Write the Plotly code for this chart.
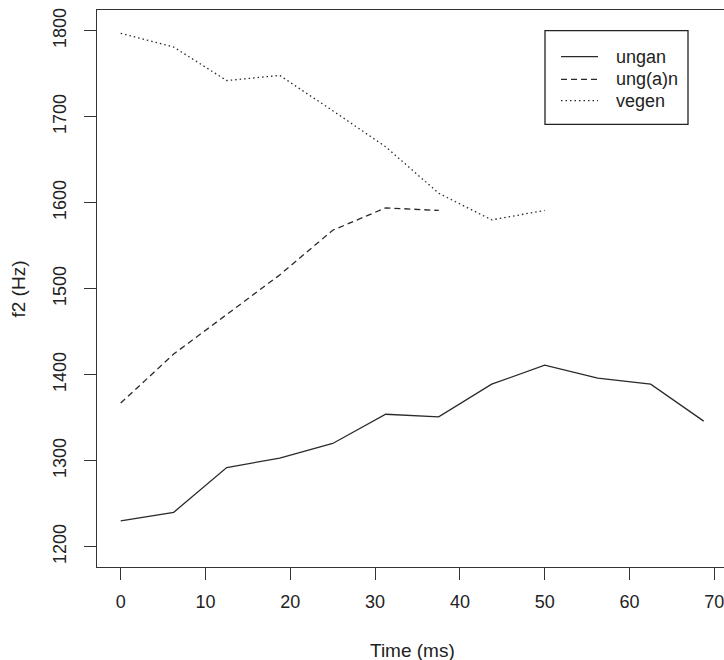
import plotly.graph_objects as go

time_ms = [0, 6.25, 12.5, 18.75, 25, 31.25, 37.5, 43.75, 50, 56.25, 62.5, 68.75]
ungan = [1230, 1240, 1292, 1303, 1320, 1354, 1351, 1389, 1411, 1396, 1389, 1346]
ungan_a = [1367, 1424, 1470, 1516, 1568, 1594, 1591]
vegen = [1797, 1781, 1742, 1748, 1707, 1665, 1611, 1580, 1591]

series_names = ["ungan", "ung(a)n", "vegen"]
series_dash = ["solid", "6px,4px", "1.5px,3px"]

x_ticks = [0, 10, 20, 30, 40, 50, 60, 70]
y_ticks = [1200, 1300, 1400, 1500, 1600, 1700, 1800]

W, H = 724, 660
L, R, T, B = 97, 0, 10, 93
font = "Liberation Sans, Arial, sans-serif"
ink = "#2a2a2a"
txt = "#222"

fig = go.Figure()
for name, ys, dash in zip(series_names, [ungan, ungan_a, vegen], series_dash):
    fig.add_trace(go.Scatter(x=time_ms[:len(ys)], y=ys, mode="lines", name=name,
                             line=dict(color=ink, width=1.3, dash=dash)))

px_per_ms = (714.3 - 120.7) / 70
x0_px = 120.7
xr = [(L - x0_px) / px_per_ms, (W - R - x0_px) / px_per_ms]
px_per_hz = (546.7 - 30.7) / 600
yr = [1200 - (H - B - 546.7) / px_per_hz, 1800 + (30.7 - T) / px_per_hz]

axis_common = dict(showgrid=False, zeroline=False, showline=True, linecolor="#333",
                   linewidth=1.3, ticks="outside", ticklen=12, tickwidth=1.3,
                   tickcolor="#333", automargin=False, ticklabeloverflow="allow",
                   tickfont=dict(family=font, size=18, color=txt))

fig.update_xaxes(range=xr, tickvals=x_ticks, mirror=True, ticklabelstandoff=6, **axis_common)
fig.update_yaxes(range=yr, tickvals=y_ticks, tickangle=-90, ticklabelstandoff=11, **axis_common)

pw = W - L - R
ph = H - T - B


def px_x(p):
    return (p - L) / pw


def px_y(p):
    return (H - B - p) / ph


fig.add_annotation(text="Time (ms)", xref="paper", yref="paper",
                   x=px_x(412), y=px_y(650), showarrow=False,
                   xanchor="center", yanchor="middle",
                   font=dict(family=font, size=19, color=txt))
fig.add_annotation(text="f2 (Hz)", xref="paper", yref="paper",
                   x=px_x(18), y=px_y(289.5), showarrow=False, textangle=-90,
                   xanchor="center", yanchor="middle",
                   font=dict(family=font, size=19, color=txt))

# manual legend
fig.add_shape(type="rect", xref="paper", yref="paper",
              x0=px_x(545), x1=px_x(688), y0=px_y(124.3), y1=px_y(30.7),
              line=dict(color="#222", width=1.3), fillcolor="white", layer="above")
row_y = [56.7, 79.3, 100.7]
for name, dash, ry in zip(series_names, series_dash, row_y):
    fig.add_shape(type="line", xref="paper", yref="paper",
                  x0=px_x(561), x1=px_x(598), y0=px_y(ry), y1=px_y(ry),
                  line=dict(color=ink, width=1.3, dash=dash), layer="above")
    fig.add_annotation(text=name, xref="paper", yref="paper",
                       x=px_x(614), y=px_y(ry), showarrow=False,
                       xanchor="left", yanchor="middle",
                       font=dict(family=font, size=18, color=txt))

fig.update_layout(
    width=W, height=H, margin=dict(l=L, r=R, t=T, b=B, autoexpand=False),
    paper_bgcolor="white", plot_bgcolor="white",
    showlegend=False,
)

fig.write_html("out.html", config={"displayModeBar": False},
               post_script="document.body.style.margin='0';document.body.style.overflow='hidden';")
